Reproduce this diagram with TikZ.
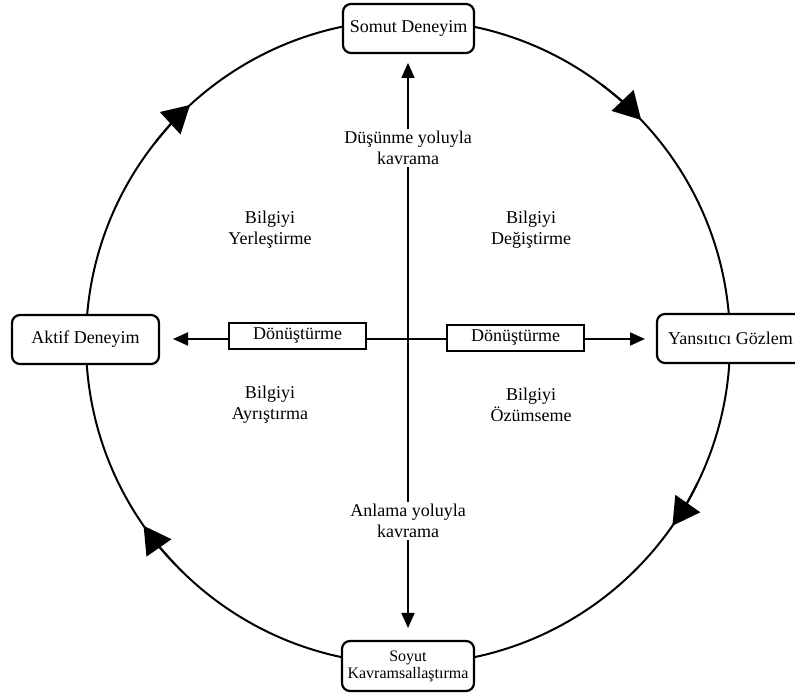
\documentclass[tikz,border=0pt]{standalone}
\usepackage{fontspec}
\setmainfont{Liberation Serif}
\usetikzlibrary{arrows.meta}
\begin{document}
\begin{tikzpicture}[x=1pt,y=1pt,
  stage/.style={draw,line width=2.2pt,rounded corners=8pt,fill=white,align=center,
    inner sep=0pt,font=\fontsize{18}{21}\selectfont},
  mode/.style={draw,line width=1.2pt,fill=white,minimum width=137pt,minimum height=26pt,
    inner sep=0pt,font=\fontsize{18}{21}\selectfont},
  lbl/.style={align=center,font=\fontsize{18}{21}\selectfont,inner sep=2pt},
  axis/.style={line width=2pt,-{Triangle[length=15pt,width=13pt]}},
  cyc/.style={line width=2pt,-{Triangle[length=27pt,width=30pt]}}
]
\useasboundingbox (0,0) rectangle (795,695);

% learning cycle
\coordinate (C) at (408,353);
\draw[line width=2pt] (C) circle[radius=322];
\draw[cyc] (C) ++(53:322) arc[start angle=53,end angle=43.6,radius=322];
\draw[cyc] (C) ++(142:322) arc[start angle=142,end angle=132.6,radius=322];
\draw[cyc] (C) ++(224:322) arc[start angle=224,end angle=214.8,radius=322];
\draw[cyc] (C) ++(334:322) arc[start angle=334,end angle=325.2,radius=322];

% axes
\coordinate (O) at (408,356);
\coordinate (up) at (408,632);
\coordinate (down) at (408,67);
\coordinate (left) at (173,356);
\coordinate (right) at (645,356);
\draw[axis] (O) -- (up);
\draw[axis] (O) -- (down);
\draw[axis] (O) -- (left);
\draw[axis] (O) -- (right);

% transformation boxes on the horizontal axis
\node[mode] (dl) at (297.5,359) {Dönüştürme};
\node[mode] (dr) at (515.5,357) {Dönüştürme};

% grasping labels on the vertical axis
\node[lbl,fill=white] (grasp1) at (408,547) {Düşünme yoluyla\\kavrama};
\node[lbl,fill=white] (grasp2) at (408,174) {Anlama yoluyla\\kavrama};

% knowledge forms in the quadrants
\node[lbl] (q1) at (270,465) {Bilgiyi\\Yerleştirme};
\node[lbl] (q2) at (531,465) {Bilgiyi\\Değiştirme};
\node[lbl] (q3) at (270,290) {Bilgiyi\\Ayrıştırma};
\node[lbl] (q4) at (531,290) {Bilgiyi\\Özümseme};

% stages on the cycle
\node[stage,minimum width=131pt,minimum height=49pt] (top) at (408.5,666.5) {Somut Deneyim};
\node[stage,minimum width=132pt,minimum height=50pt,font=\fontsize{16}{17}\selectfont] (bottom) at (408,29) {Soyut\\Kavramsallaştırma};
\node[stage,minimum width=147pt,minimum height=49pt] (west) at (85.5,355.5) {Aktif Deneyim};
\node[stage,minimum width=147pt,minimum height=49pt] (east) at (730.5,356.5) {Yansıtıcı Gözlem};
\end{tikzpicture}
\end{document}
